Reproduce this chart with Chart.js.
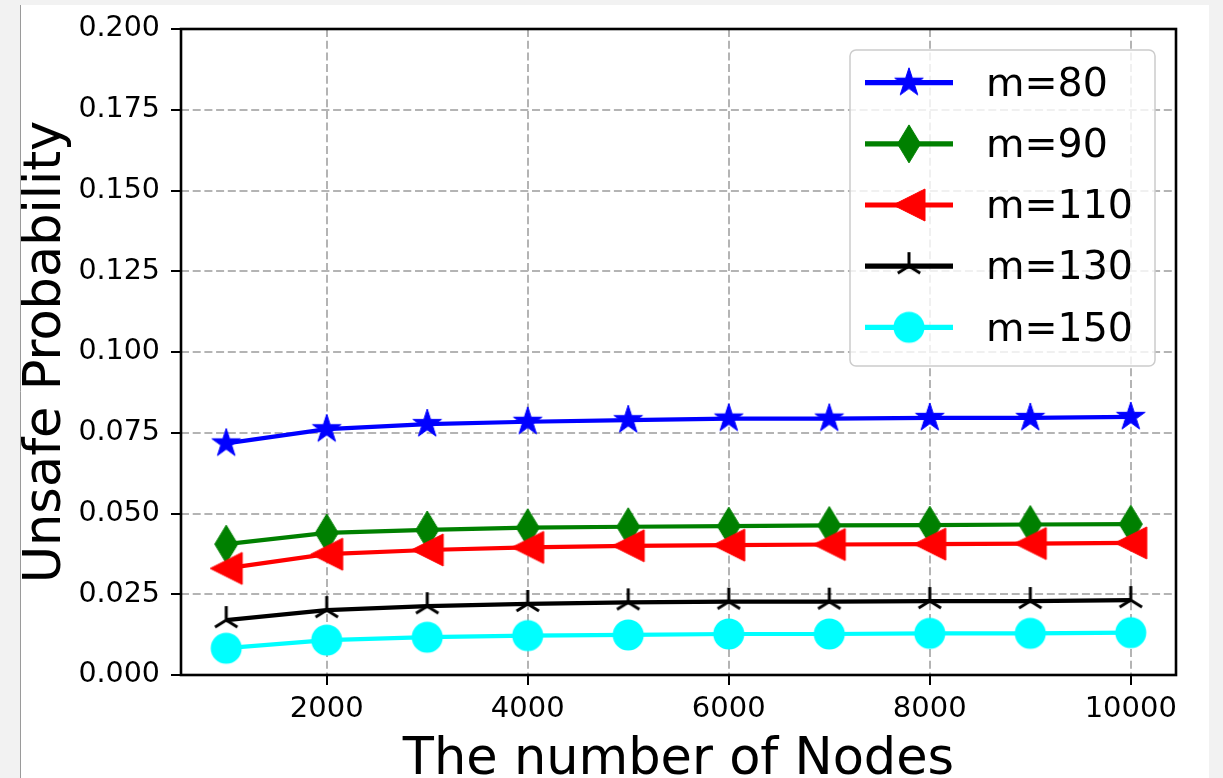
<!DOCTYPE html>
<html>
<head>
<meta charset="utf-8">
<title>Unsafe Probability</title>
<script src="https://cdn.jsdelivr.net/npm/chart.js@4.4.1/dist/chart.umd.min.js"></script>
<style>
  html, body { margin: 0; padding: 0; background: #f2f2f2; }
  #chart { display: block; }
</style>
</head>
<body>
<canvas id="chart" width="1223" height="778"></canvas>
<script>
// data
const nodes = [1000, 2000, 3000, 4000, 5000, 6000, 7000, 8000, 9000, 10000];
const m80 = [0.0717, 0.0761, 0.0777, 0.0784, 0.0789, 0.0794, 0.0794, 0.0796, 0.0796, 0.0799];
const m90 = [0.0405, 0.0440, 0.0449, 0.0456, 0.0459, 0.0461, 0.0463, 0.0464, 0.0466, 0.0467];
const m110 = [0.0330, 0.0374, 0.0387, 0.0395, 0.0400, 0.0402, 0.0404, 0.0405, 0.0407, 0.0409];
const m130 = [0.0170, 0.0201, 0.0213, 0.0220, 0.0225, 0.0227, 0.0227, 0.0229, 0.0229, 0.0232];
const m150 = [0.0083, 0.0108, 0.0117, 0.0122, 0.0124, 0.0127, 0.0127, 0.0129, 0.0129, 0.0131];
const seriesLabels = ["m=80", "m=90", "m=110", "m=130", "m=150"];
const xTicks = [2000, 4000, 6000, 8000, 10000];
const yTicks = [0, 0.025, 0.05, 0.075, 0.1, 0.125, 0.15, 0.175, 0.2];

const FONT = "'DejaVu Sans', sans-serif";

// marker pictures, matplotlib style
function marker(size, draw) {
  const c = document.createElement("canvas");
  c.width = size;
  c.height = size;
  const g = c.getContext("2d");
  g.translate(size / 2, size / 2);
  draw(g);
  return c;
}

const starMark = marker(36, (g) => {
  const R = 15, r = R * 0.381966;
  g.beginPath();
  for (let k = 0; k < 10; k++) {
    const a = -Math.PI / 2 + k * Math.PI / 5;
    const rr = k % 2 === 0 ? R : r;
    g.lineTo(rr * Math.cos(a), rr * Math.sin(a));
  }
  g.closePath();
  g.fillStyle = "#0000ff";
  g.strokeStyle = "#0000ff";
  g.lineWidth = 1;
  g.fill();
  g.stroke();
});

const diamondMark = marker(40, (g) => {
  g.beginPath();
  g.moveTo(0, -19);
  g.lineTo(11.5, 0);
  g.lineTo(0, 19);
  g.lineTo(-11.5, 0);
  g.closePath();
  g.fillStyle = "#008000";
  g.strokeStyle = "#008000";
  g.lineWidth = 1;
  g.fill();
  g.stroke();
});

const leftTriMark = marker(36, (g) => {
  g.beginPath();
  g.moveTo(-16, 0);
  g.lineTo(16, -16);
  g.lineTo(16, 16);
  g.closePath();
  g.fillStyle = "#ff0000";
  g.strokeStyle = "#ff0000";
  g.lineWidth = 1;
  g.fill();
  g.stroke();
});

const triUpMark = marker(32, (g) => {
  g.beginPath();
  g.moveTo(0, 0); g.lineTo(0, -14);
  g.moveTo(0, 0); g.lineTo(-11.2, 7);
  g.moveTo(0, 0); g.lineTo(11.2, 7);
  g.strokeStyle = "#000000";
  g.lineWidth = 3;
  g.stroke();
});

const circleMark = marker(34, (g) => {
  g.beginPath();
  g.arc(0, 0, 15.5, 0, Math.PI * 2);
  g.fillStyle = "#00ffff";
  g.fill();
});

const colors = ["#0000ff", "#008000", "#ff0000", "#000000", "#00ffff"];
const marks = [starMark, diamondMark, leftTriMark, triUpMark, circleMark];
const values = [m80, m90, m110, m130, m150];

const datasets = values.map((vals, i) => ({
  label: seriesLabels[i],
  data: nodes.map((n, j) => ({ x: n, y: vals[j] })),
  borderColor: colors[i],
  backgroundColor: colors[i],
  borderWidth: 4.2,
  pointStyle: marks[i],
  pointRadius: 16,
  tension: 0,
  order: values.length - i, // later series on top, like matplotlib
}));

// grey page edge and white figure panel
const panelBg = {
  id: "panelBg",
  beforeDraw(chart) {
    const ctx = chart.ctx;
    ctx.save();
    ctx.fillStyle = "#f2f2f2";
    ctx.fillRect(0, 0, chart.width, chart.height);
    ctx.fillStyle = "#ffffff";
    ctx.fillRect(21, 5, 1188, 773);
    ctx.strokeStyle = "#9a9a9a";
    ctx.lineWidth = 1;
    ctx.beginPath();
    ctx.moveTo(20.5, 5);
    ctx.lineTo(20.5, 778);
    ctx.stroke();
    ctx.restore();
  },
};

// axes frame on all four sides
const frame = {
  id: "frame",
  afterDatasetsDraw(chart) {
    const { left, top, right, bottom } = chart.chartArea;
    const ctx = chart.ctx;
    ctx.save();
    ctx.strokeStyle = "#000000";
    ctx.lineWidth = 2.6;
    ctx.strokeRect(left, top, right - left, bottom - top);
    ctx.restore();
  },
};

// legend box with line + marker samples
const lineLegend = {
  id: "lineLegend",
  afterDraw(chart) {
    const ctx = chart.ctx;
    ctx.save();
    ctx.beginPath();
    ctx.roundRect(850, 50, 305, 316, 6);
    ctx.fillStyle = "rgba(255,255,255,0.8)";
    ctx.fill();
    ctx.strokeStyle = "#cccccc";
    ctx.lineWidth = 1.5;
    ctx.stroke();

    ctx.font = "39.5px " + FONT;
    ctx.textBaseline = "middle";
    ctx.textAlign = "left";
    chart.data.datasets.forEach((ds, i) => {
      const y = 82.7 + i * 61.15;
      ctx.beginPath();
      ctx.moveTo(865, y);
      ctx.lineTo(953, y);
      ctx.strokeStyle = ds.borderColor;
      ctx.lineWidth = 5.2;
      ctx.stroke();
      const img = ds.pointStyle;
      ctx.drawImage(img, 909 - img.width / 2, y - img.height / 2);
      ctx.fillStyle = "#000000";
      ctx.fillText(ds.label, 986, y + 3);
    });
    ctx.restore();
  },
};

new Chart(document.getElementById("chart"), {
  type: "line",
  data: { datasets },
  options: {
    responsive: false,
    animation: false,
    layout: { padding: { top: 29, right: 47, left: 0, bottom: 0 } },
    plugins: {
      legend: { display: false },
      tooltip: { enabled: false },
    },
    scales: {
      x: {
        type: "linear",
        min: 550,
        max: 10450,
        afterBuildTicks: (scale) => {
          scale.ticks = xTicks.map((v) => ({ value: v }));
        },
        afterFit: (scale) => {
          scale.height = 103;
        },
        ticks: {
          color: "#000000",
          font: { family: FONT, size: 29 },
          padding: 7,
          maxRotation: 0,
          callback: (v) => String(v),
        },
        grid: {
          color: "#b4b4b4",
          lineWidth: 2,
          drawTicks: true,
          tickLength: 10,
          tickColor: "#000000",
          tickWidth: 2,
          tickBorderDash: [],
        },
        border: { display: false, dash: [8, 3.7] },
        title: {
          display: true,
          text: "The number of Nodes",
          color: "#000000",
          font: { family: FONT, size: 51, lineHeight: 0.6 },
          padding: { top: 0, bottom: 2 },
        },
      },
      y: {
        type: "linear",
        min: 0,
        max: 0.2,
        afterBuildTicks: (scale) => {
          scale.ticks = yTicks.map((v) => ({ value: v }));
        },
        afterFit: (scale) => {
          scale.width = 181;
        },
        ticks: {
          color: "#000000",
          font: { family: FONT, size: 28.5 },
          padding: 11,
          callback: (v) => v.toFixed(3),
        },
        grid: {
          color: "#b4b4b4",
          lineWidth: 2,
          drawTicks: true,
          tickLength: 10,
          tickColor: "#000000",
          tickWidth: 2,
          tickBorderDash: [],
        },
        border: { display: false, dash: [8, 3.7] },
        title: {
          display: true,
          text: "Unsafe Probability",
          color: "#000000",
          font: { family: FONT, size: 51, lineHeight: 1 },
          padding: { top: 21, bottom: 0 },
        },
      },
    },
  },
  plugins: [panelBg, frame, lineLegend],
});
</script>
</body>
</html>
